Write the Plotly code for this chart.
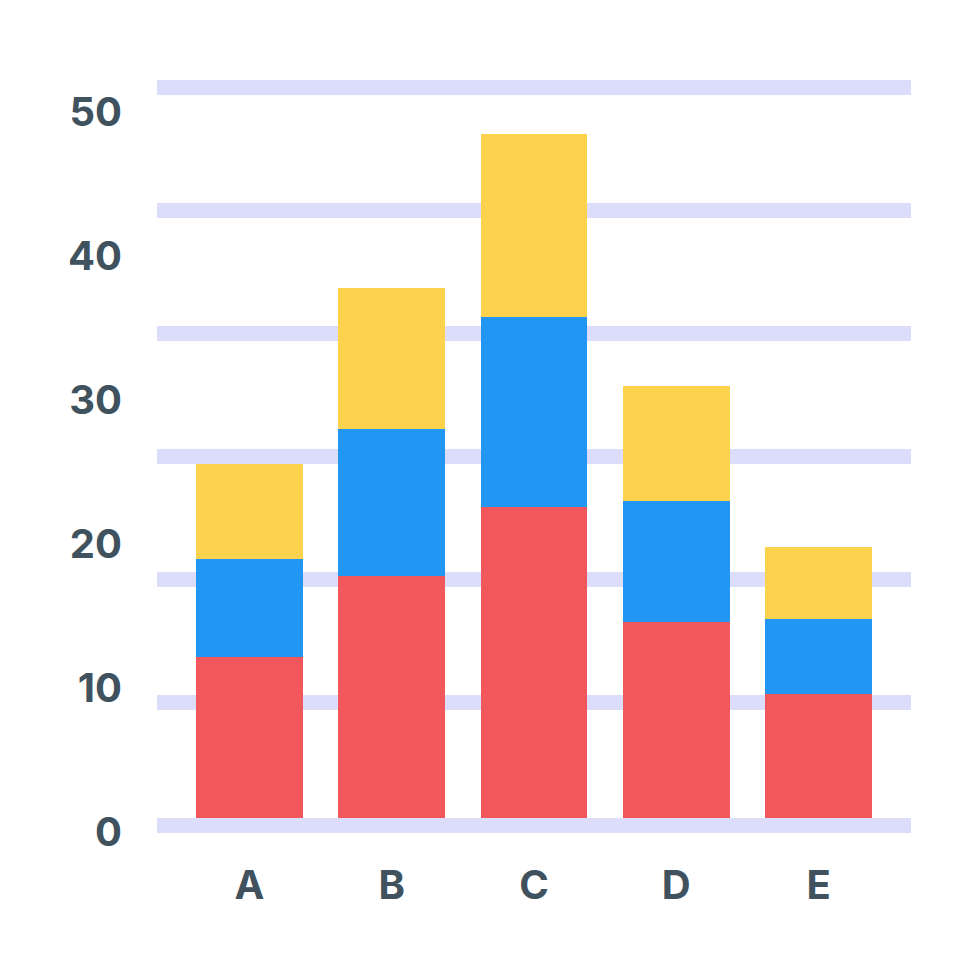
import plotly.graph_objects as go

# ---- data (in units of the 0-50 axis labels) ----
categories = ["A", "B", "C", "D", "E"]
red_values = [11.2, 16.8, 21.6, 13.6, 8.6]
blue_values = [6.8, 10.2, 13.2, 8.4, 5.2]
yellow_values = [6.6, 9.8, 12.7, 8.0, 5.0]
tick_labels = ["0", "10", "20", "30", "40", "50"]
tick_numbers = [0, 10, 20, 30, 40, 50]

# ---- styling ----
RED = "#F2575B"
BLUE = "#2196F3"
YELLOW = "#FDD34D"
GRID = "#DCDDFA"
TEXT = "#3F525E"
FONT = "Inter"

# label row sits slightly below the bar baseline in the original icon
LABEL_OFFSET = -0.97
# decorative guide lines (axis grid), spaced independently of the labels
GRID_START = -0.52
GRID_STEP = 8.54
grid_vals = [GRID_START + GRID_STEP * i for i in range(7)]

fig = go.Figure()
for name, vals, col in [("Red", red_values, RED),
                        ("Blue", blue_values, BLUE),
                        ("Yellow", yellow_values, YELLOW)]:
    fig.add_trace(go.Bar(x=categories, y=vals, name=name,
                         marker=dict(color=col, line=dict(width=0)),
                         hoverinfo="skip"))

fig.update_layout(
    barmode="stack",
    bargap=0.248,
    width=980, height=980,
    margin=dict(l=157, r=69, t=60, b=130),
    paper_bgcolor="white",
    plot_bgcolor="white",
    showlegend=False,
    font=dict(family=FONT, color=TEXT, size=40),
)
fig.update_xaxes(
    range=[-0.65, 4.65],
    showgrid=False, zeroline=False, showline=False, ticks="",
    tickfont=dict(family=FONT, size=40, color=TEXT, weight="bold"),
    ticklabelstandoff=8,
)
fig.update_yaxes(
    range=[-2.222, 52.639],
    tickmode="array",
    tickvals=[t + LABEL_OFFSET for t in tick_numbers],
    ticktext=tick_labels,
    showgrid=False, zeroline=False, showline=False, ticks="",
    tickfont=dict(family=FONT, size=40, color=TEXT, weight="bold"),
    ticklabelstandoff=34,
    minor=dict(tickmode="array", tickvals=grid_vals, showgrid=True,
               gridcolor=GRID, gridwidth=15, ticks=""),
)

fig.write_html("out.html", config={"displayModeBar": False})
